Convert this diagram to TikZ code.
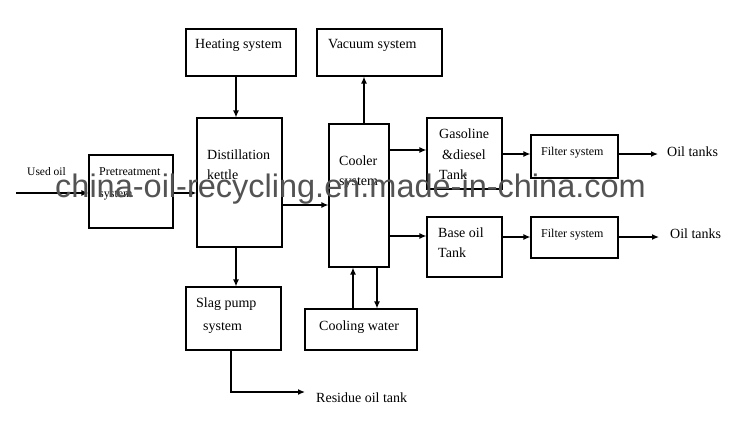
\documentclass[tikz,border=0pt]{standalone}
\usepackage{fontspec}
\setmainfont{Liberation Serif}
\newfontfamily\wmfont{Liberation Sans}
\usetikzlibrary{arrows.meta}
\definecolor{wmgray}{HTML}{535353}
\begin{document}
\begin{tikzpicture}[x=1bp,y=-1bp,
  box/.style={draw=black,line width=1.1bp,inner sep=0pt,fill=none},
  txt/.style={anchor=base west,inner sep=0pt,font=\fontsize{14bp}{16bp}\selectfont},
  stxt/.style={anchor=base west,inner sep=0pt,font=\fontsize{12bp}{14bp}\selectfont},
  arr/.style={line width=1.3bp,-{Latex[length=7bp,width=6bp]}}]
\useasboundingbox (0,0) rectangle (742,426);
\fill[white] (0,0) rectangle (742,426);
% boxes
\node[box,minimum width=84bp,minimum height=73bp] (pre) at (131,191.5) {};
\node[box,minimum width=110bp,minimum height=47bp] (heat) at (241,52.5) {};
\node[box,minimum width=125bp,minimum height=47bp] (vac) at (379.5,52.5) {};
\node[box,minimum width=85bp,minimum height=129bp] (dist) at (239.5,182.5) {};
\node[box,minimum width=60bp,minimum height=143bp] (cool) at (359,195.5) {};
\node[box,minimum width=75bp,minimum height=71bp] (gas) at (464.5,153.5) {};
\node[box,minimum width=87bp,minimum height=43bp] (filt1) at (574.5,156.5) {};
\node[box,minimum width=75bp,minimum height=60bp] (base) at (464.5,247) {};
\node[box,minimum width=87bp,minimum height=41bp] (filt2) at (574.5,237.5) {};
\node[box,minimum width=95bp,minimum height=63bp] (slag) at (233.5,318.5) {};
\node[box,minimum width=112bp,minimum height=41bp] (cw) at (361,329.5) {};
% texts
\node[stxt,font=\fontsize{11.5bp}{13bp}\selectfont] (tused) at (27,175) {Used oil};
\node[stxt] (tpre1) at (99,175) {Pretreatment};
\node[stxt] (tpre2) at (99,197) {system};
\node[txt] (theat) at (195,48) {Heating system};
\node[txt] (tvac) at (328,48) {Vacuum system};
\node[txt] (tdist1) at (207,159) {Distillation};
\node[txt] (tdist2) at (207,179) {kettle};
\node[txt] (tcool1) at (339,165) {Cooler};
\node[txt] (tcool2) at (339,185) {system};
\node[txt] (tgas1) at (439,138) {Gasoline};
\node[txt] (tgas2) at (442,159) {\&diesel};
\node[txt] (tgas3) at (439,179) {Tank};
\node[stxt] (tf1) at (541,155) {Filter system};
\node[stxt] (tf2) at (541,237) {Filter system};
\node[txt] (toil1) at (667,156) {Oil tanks};
\node[txt] (toil2) at (670,238) {Oil tanks};
\node[txt] (tbase1) at (438,237) {Base oil};
\node[txt] (tbase2) at (438,257) {Tank};
\node[txt] (tslag1) at (196,307) {Slag pump};
\node[txt] (tslag2) at (203,330) {system};
\node[txt] (tcw) at (319,330) {Cooling water};
\node[txt] (tres) at (316,402) {Residue oil tank};
% connectors
\coordinate (in) at (16,193);
\draw[arr] (in) -- (in -| pre.west);
\draw[arr] (pre.east |- in) -- (dist.west |- in);
\draw[arr] (236,0 |- heat.south) -- (236,0 |- dist.north);
\draw[arr] (dist.east |- 0,205) -- (cool.west |- 0,205);
\draw[arr] (364,0 |- cool.north) -- (364,0 |- vac.south);
\draw[arr] (cool.east |- 0,150) -- (gas.west |- 0,150);
\draw[arr] (cool.east |- 0,236) -- (base.west |- 0,236);
\draw[arr] (gas.east |- 0,154) -- (filt1.west |- 0,154);
\coordinate (o1) at (658,154);
\draw[arr] (filt1.east |- o1) -- (o1);
\draw[arr] (base.east |- 0,237) -- (filt2.west |- 0,237);
\coordinate (o2) at (659,237);
\draw[arr] (filt2.east |- o2) -- (o2);
\draw[arr] (236,0 |- dist.south) -- (236,0 |- slag.north);
\draw[arr] (353,0 |- cw.north) -- (353,0 |- cool.south);
\draw[arr] (377,0 |- cool.south) -- (377,0 |- cw.north);
\coordinate (res) at (305,392);
\draw[arr] (231,0 |- slag.south) -- (231,392) -- (res);
% watermark
\node[anchor=base west,inner sep=0pt,text=wmgray,
  font=\wmfont\fontsize{32.5bp}{34bp}\selectfont] (wm) at (55,197)
  {china-oil-recycling.en.made-in-china.com};
\end{tikzpicture}
\end{document}
